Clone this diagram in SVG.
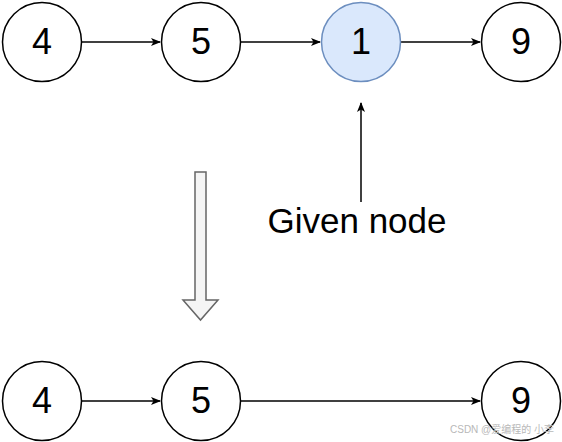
<svg xmlns="http://www.w3.org/2000/svg" width="562" height="442" viewBox="0 0 562 442">
<defs>
<style>
.node circle{fill:#ffffff;stroke:#000000;stroke-width:1.5}
.node.given circle{fill:#dae8fc;stroke:#6c8ebf}
.lbl{font-family:"Liberation Sans",Arial,sans-serif;font-size:36px;fill:#000000;text-anchor:middle}
.edge{stroke:#000000;stroke-width:1.5;fill:none}
.wm{font-family:"Liberation Sans","Noto Sans CJK SC",sans-serif;font-size:10px;fill:#b8b8b8}
</style>
<marker id="arr" viewBox="0 0 10 10" refX="9" refY="5" markerWidth="10" markerHeight="10" markerUnits="userSpaceOnUse" orient="auto">
<path d="M0,1 L10,5 L0,9 L2.5,5 Z" fill="#000000"/>
</marker>
</defs>
<rect width="562" height="442" fill="#ffffff"/>
<g id="connectors">
<line class="edge" x1="82" y1="42" x2="160" y2="42" marker-end="url(#arr)"/>
<line class="edge" x1="241" y1="42" x2="320" y2="42" marker-end="url(#arr)"/>
<line class="edge" x1="401" y1="42" x2="480" y2="42" marker-end="url(#arr)"/>
<line class="edge" x1="361" y1="202" x2="361" y2="103" marker-end="url(#arr)"/>
<line class="edge" x1="82" y1="401" x2="160" y2="401" marker-end="url(#arr)"/>
<line class="edge" x1="241" y1="401" x2="480" y2="401" marker-end="url(#arr)"/>
</g>
<g id="n4top" class="node"><circle cx="42" cy="42" r="39.5"/><text class="lbl" x="42" y="54">4</text></g>
<g id="n5top" class="node"><circle cx="201" cy="42" r="39.5"/><text class="lbl" x="201" y="54">5</text></g>
<g id="n1top" class="node given"><circle cx="361" cy="42" r="39.5"/><text class="lbl" x="361" y="54">1</text></g>
<g id="n9top" class="node"><circle cx="521" cy="42" r="39.5"/><text class="lbl" x="521" y="54">9</text></g>
<g id="given-label"><text class="lbl" x="357" y="233" style="font-size:35px">Given node</text></g>
<g id="transform-arrow">
<path d="M195,172 L206,172 L206,300 L218,300 L200.5,320 L183,300 L195,300 Z" fill="#f5f5f5" stroke="#666666" stroke-width="1.5" stroke-linejoin="miter"/>
</g>
<g id="n4bot" class="node"><circle cx="42" cy="401" r="39.5"/><text class="lbl" x="42" y="413">4</text></g>
<g id="n5bot" class="node"><circle cx="201" cy="401" r="39.5"/><text class="lbl" x="201" y="413">5</text></g>
<g id="n9bot" class="node"><circle cx="521" cy="401" r="39.5"/><text class="lbl" x="521" y="413">9</text></g>
<text class="wm" x="450" y="433">CSDN @爱编程的 小李</text>
</svg>
